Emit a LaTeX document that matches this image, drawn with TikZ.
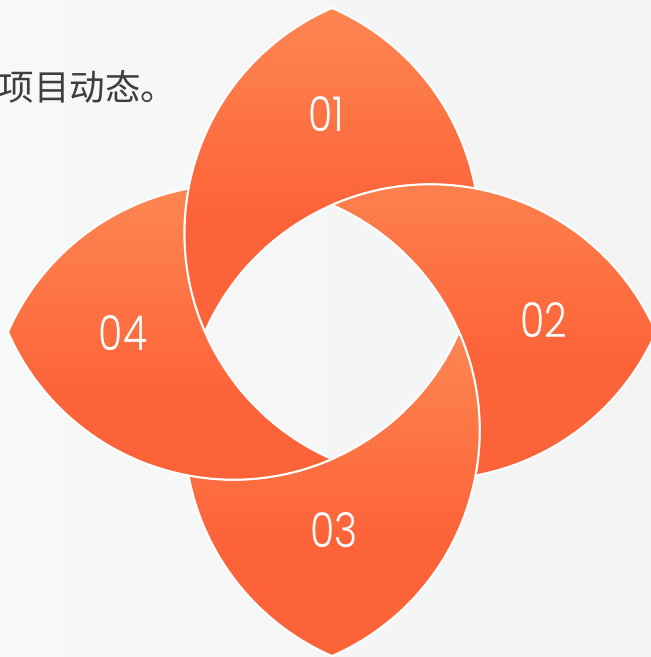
\documentclass[tikz,border=0pt]{standalone}
\usepackage{fontspec}
\newfontfamily\cjk{Noto Sans CJK SC}
\IfFontExistsTF{Poppins Light}{\newfontfamily\numfont{Poppins Light}}{%
  \IfFontExistsTF{FiraSans-Light.otf}{\newfontfamily\numfont{FiraSans-Light.otf}}{\newfontfamily\numfont{Poppins}}}
\definecolor{bgL}{HTML}{F7F8F8}
\definecolor{bgR}{HTML}{F3F3F3}
\definecolor{petalL}{HTML}{FD8652}
\definecolor{petalD}{HTML}{FD6338}
\definecolor{txt}{HTML}{3D3D3D}
\pgfdeclareverticalshading{petalgrad}{100bp}{color(0bp)=(petalD); color(25bp)=(petalD);
  color(43bp)=(petalD); color(75bp)=(petalL); color(100bp)=(petalL)}
% visible petal region, rotated by #1 degrees about the centre
\newcommand\petalpath[1]{({324*cos(90+#1)},{324*sin(90+#1)})
  arc[start angle={113.59+#1}, end angle={203.59+#1}, radius=246.1]
  arc[start angle={156.41+#1}, end angle={79.47+#1}, radius=246.1]
  arc[start angle={10.53+#1}, end angle={66.41+#1}, radius=246.1] -- cycle}
\tikzset{
  petalshape/.style={shading=petalgrad, draw=white, line width=2pt},
  lbl/.style={text=white, inner sep=0pt, xscale=0.82,
    font=\numfont\fontsize{48}{48}\selectfont}
}
\begin{document}
\begin{tikzpicture}[x=1pt,y=1pt]
\useasboundingbox (-332,-325) rectangle (319,332);
\shade[left color=bgL, right color=bgR] (-332,-325) rectangle (319,332);
\node[anchor=base west, text=txt, inner sep=0pt,
  font=\cjk\fontsize{35.5}{36}\selectfont] (title) at (-333.25,232) {项目动态。};
\shadedraw[petalshape] \petalpath{0};
\shadedraw[petalshape] \petalpath{-90};
\shadedraw[petalshape] \petalpath{-180};
\shadedraw[petalshape] \petalpath{-270};
\node[lbl] (n1) at (-6,217.5) {01};
\node[lbl] (n2) at (212,11.5) {02};
\node[lbl] (n3) at (2,-198) {03};
\node[lbl] (n4) at (-209,-1) {04};
\end{tikzpicture}
\end{document}
